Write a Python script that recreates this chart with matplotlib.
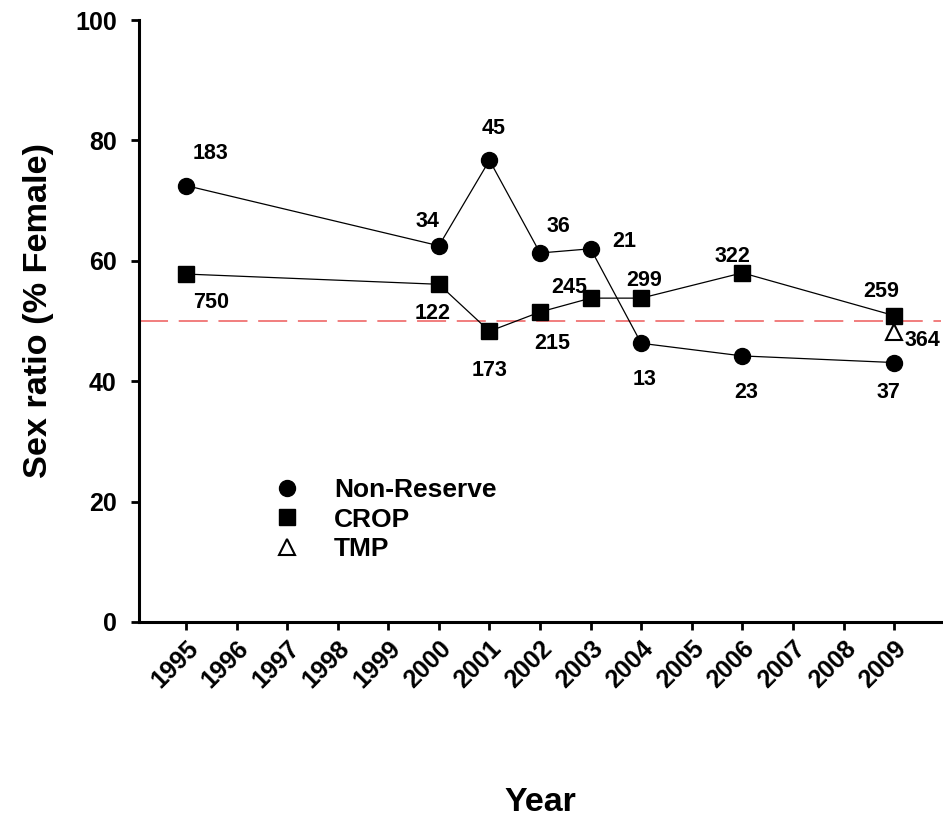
import numpy as np
import matplotlib.pyplot as plt

plt.rcParams['font.family'] = ['Liberation Sans', 'DejaVu Sans']
plt.rcParams['font.weight'] = 'bold'

years = list(range(1995, 2010))

# Non-Reserve
nr_years = [1995, 2000, 2001, 2002, 2003, 2004, 2006, 2009]
nr_ratio = [72.5, 62.5, 76.7, 61.3, 62.0, 46.3, 44.2, 43.1]
nr_n = ['183', '34', '45', '36', '21', '13', '23', '37']

# CROP
crop_years = [1995, 2000, 2001, 2002, 2003, 2004, 2006, 2009]
crop_ratio = [57.8, 56.1, 48.3, 51.5, 53.8, 53.8, 58.0, 50.9]
crop_n = ['750', '122', '173', '215', '245', '299', '322', '259']

# TMP
tmp_years = [2009]
tmp_ratio = [48.2]
tmp_n = ['364']

# label offsets (pixels)
nr_off = [(24, 32), (-11, 24), (4, 32), (18, 26), (34, 7), (3, -36), (4, -37), (-6, -30)]
crop_off = [(25, -28), (-6, -29), (0, -39), (12, -32), (-21, 11), (3, 18), (-10, 16), (-13, 24)]
tmp_off = [(28, -9)]

fig = plt.figure(figsize=(9.43, 8.21), dpi=100)
ax = fig.add_axes([0.1474, 0.2424, 0.8506, 0.7332])

ax.axhline(50, color='#ee5a5a', lw=1.1, dashes=(19, 7), zorder=1)

ax.plot(nr_years, nr_ratio, '-o', color='black', lw=0.9, ms=11.5, label='Non-Reserve', zorder=3)
ax.plot(crop_years, crop_ratio, '-s', color='black', lw=0.9, ms=11, label='CROP', zorder=3)
ax.plot(tmp_years, tmp_ratio, '^', color='black', mfc='white', mew=1.5, ms=11, label='TMP', zorder=4)

for xs, ys, ns, offs in [(nr_years, nr_ratio, nr_n, nr_off),
                         (crop_years, crop_ratio, crop_n, crop_off),
                         (tmp_years, tmp_ratio, tmp_n, tmp_off)]:
    for x, y, n, o in zip(xs, ys, ns, offs):
        ax.annotate(n, (x, y), xytext=o, textcoords='offset pixels',
                    ha='center', va='center', fontsize=15.5, fontweight='bold')

ax.set_xlim(1994.07, 2009.93)
ax.set_ylim(0, 100)
ax.set_xticks(years)
ax.set_xticklabels([str(y) for y in years], rotation=45, ha='right',
                   rotation_mode='anchor', fontsize=18, fontweight='bold')
ax.set_yticks(np.arange(0, 101, 20))
ax.tick_params(axis='y', labelsize=18, width=2, length=6, pad=10)
ax.tick_params(axis='x', width=2, length=6, pad=4)
for lab in ax.get_yticklabels():
    lab.set_fontweight('bold')

for s in ['top', 'right']:
    ax.spines[s].set_visible(False)
for s in ['left', 'bottom']:
    ax.spines[s].set_linewidth(2.2)

ax.set_xlabel('Year', fontsize=24.5, fontweight='bold', labelpad=68)
ax.set_ylabel('Sex ratio (% Female)', fontsize=24.7, fontweight='bold', labelpad=15)
ax.yaxis.label.set_y(0.518)

leg = ax.legend(loc='upper left', bbox_to_anchor=(0.139, 0.278), frameon=False,
                fontsize=19, markerscale=1.0, handlelength=1.0, handletextpad=1.26,
                labelspacing=0.2, numpoints=1)
for h in leg.legend_handles:
    h.set_linestyle('None')
for t in leg.get_texts():
    t.set_fontweight('bold')

fig.savefig('out.png', dpi=100)
